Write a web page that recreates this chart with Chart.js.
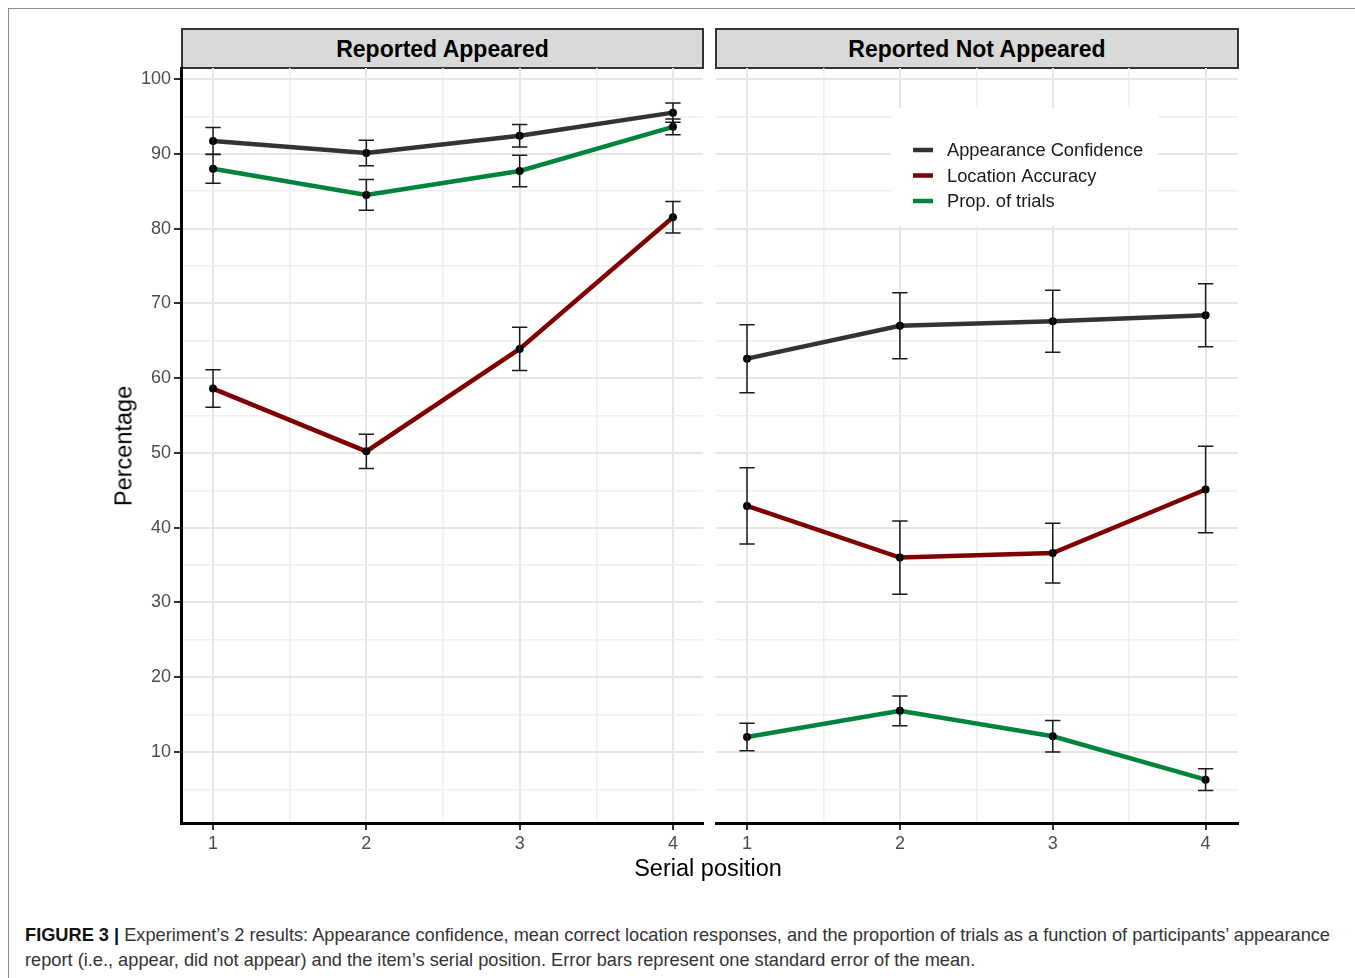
<!DOCTYPE html>
<html>
<head>
<meta charset="utf-8">
<script src="https://cdn.jsdelivr.net/npm/chart.js@4.4.0/dist/chart.umd.min.js"></script>
<style>
  body { margin: 0; width: 1355px; height: 978px; background: #fff; position: relative; overflow: hidden;
         font-family: "Liberation Sans", Arial, sans-serif; }
  .frame { position: absolute; left: 8px; top: 8px; width: 1400px; height: 1000px;
           border-top: 1px solid #8c8c8c; border-left: 1px solid #8c8c8c; }
  .strip { position: absolute; top: 28px; height: 41px; box-sizing: border-box; background: #d9d9d9;
           border: 2px solid #333; font-weight: bold; font-size: 23px; color: #000; text-align: center; line-height: 39px; }
  .panel { position: absolute; top: 60px; }
  .ytitle { position: absolute; left: 124px; top: 446px; transform: translate(-50%, -50%) rotate(-90deg);
            font-size: 23.5px; color: #000; white-space: nowrap; }
  .xtitle { position: absolute; left: 708px; top: 868px; transform: translate(-50%, -50%);
            font-size: 23.5px; color: #000; white-space: nowrap; }
  .caption { position: absolute; left: 25px; font-size: 18.5px; color: #333; white-space: nowrap;
             transform-origin: 0 50%; }
  .caption b { color: #111; }
</style>
</head>
<body>
<div class="frame"></div>
<div class="strip" style="left:181px; width:523px;">Reported Appeared</div>
<div class="strip" style="left:715px; width:524px;">Reported Not Appeared</div>
<div class="panel" style="left:120px;"><canvas id="left" width="590" height="800"></canvas></div>
<div class="panel" style="left:700px;"><canvas id="right" width="550" height="800"></canvas></div>
<div class="ytitle">Percentage</div>
<div class="xtitle">Serial position</div>
<div class="caption" id="cap1" style="top:924px;"><b>FIGURE 3 |</b> Experiment’s 2 results: Appearance confidence, mean correct location responses, and the proportion of trials as a function of participants’ appearance</div>
<div class="caption" id="cap2" style="top:949px;">report (i.e., appear, did not appear) and the item’s serial position. Error bars represent one standard error of the mean.</div>

<script>
const positions = [1, 2, 3, 4];
const seriesNames = ['Appearance Confidence', 'Location Accuracy', 'Prop. of trials'];

// Reported Appeared
const confAppeared = [91.7, 90.1, 92.4, 95.5];
const confAppearedSe = [1.8, 1.7, 1.5, 1.3];
const locAppeared = [58.6, 50.2, 63.9, 81.5];
const locAppearedSe = [2.5, 2.3, 2.9, 2.1];
const propAppeared = [88.0, 84.5, 87.7, 93.6];
const propAppearedSe = [1.95, 2.05, 2.1, 1.05];

// Reported Not Appeared
const confNot = [62.6, 67.0, 67.6, 68.4];
const confNotSe = [4.55, 4.4, 4.15, 4.2];
const locNot = [42.9, 36.0, 36.6, 45.1];
const locNotSe = [5.1, 4.9, 4.0, 5.8];
const propNot = [12.0, 15.5, 12.1, 6.3];
const propNotSe = [1.85, 2.0, 2.1, 1.45];

const xTicks = [1, 2, 3, 4];
const yTicks = [10, 20, 30, 40, 50, 60, 70, 80, 90, 100];

const colors = ['#333333', '#7f0000', '#00843d'];

// squeeze caption lines to the narrow width of the original
const cap1 = document.getElementById('cap1');
const sx = 1305 / cap1.getBoundingClientRect().width;
cap1.style.transform = 'scaleX(' + sx + ')';
document.getElementById('cap2').style.transform = 'scaleX(' + sx + ')';

function makeDatasets(means, ses) {
  return means.map((m, k) => ({
    label: seriesNames[k],
    data: positions.map((x, i) => ({ x: x, y: m[i] })),
    se: ses[k],
    borderColor: colors[k],
    borderWidth: 4.5,
    pointRadius: 4,
    pointBackgroundColor: '#000',
    pointBorderWidth: 0,
    pointHoverRadius: 4,
    tension: 0
  }));
}

const errorBars = {
  id: 'errorBars',
  afterDatasetsDraw(chart) {
    const ctx = chart.ctx;
    const xs = chart.scales.x, ys = chart.scales.y;
    ctx.save();
    ctx.strokeStyle = '#1a1a1a';
    ctx.lineWidth = 1.5;
    chart.data.datasets.forEach((ds) => {
      ds.data.forEach((p, i) => {
        const x = xs.getPixelForValue(p.x);
        const xl = xs.getPixelForValue(p.x - 0.05);
        const xr = xs.getPixelForValue(p.x + 0.05);
        const yt = ys.getPixelForValue(p.y + ds.se[i]);
        const yb = ys.getPixelForValue(p.y - ds.se[i]);
        ctx.beginPath();
        ctx.moveTo(x, yt); ctx.lineTo(x, yb);
        ctx.moveTo(xl, yt); ctx.lineTo(xr, yt);
        ctx.moveTo(xl, yb); ctx.lineTo(xr, yb);
        ctx.stroke();
      });
    });
    ctx.restore();
  }
};

const insideLegend = {
  id: 'insideLegend',
  beforeDatasetsDraw(chart, args, opts) {
    if (!opts.show) return;
    const ctx = chart.ctx;
    const a = chart.chartArea;
    ctx.save();
    ctx.fillStyle = '#fff';
    ctx.fillRect(a.left + 175, a.top + 40, 267, 118);
    ctx.font = '18.3px "Liberation Sans", Arial, sans-serif';
    ctx.textBaseline = 'middle';
    seriesNames.forEach((name, k) => {
      const y = a.top + 82 + k * 25.5;
      ctx.strokeStyle = colors[k];
      ctx.lineWidth = 4.5;
      ctx.beginPath();
      ctx.moveTo(a.left + 197, y); ctx.lineTo(a.left + 217, y);
      ctx.stroke();
      ctx.fillStyle = '#1a1a1a';
      ctx.fillText(name, a.left + 231, y + 1);
    });
    ctx.restore();
  }
};

function makeOptions(showY, showLegend, padLeft, padRight, xMin, xMax) {
  return {
    responsive: false,
    animation: false,
    devicePixelRatio: 1,
    layout: { padding: { top: 8, right: padRight, left: padLeft, bottom: 0 } },
    plugins: { legend: { display: false }, tooltip: { enabled: false }, insideLegend: { show: showLegend } },
    scales: {
      x: {
        type: 'linear',
        min: xMin, max: xMax,
        afterBuildTicks: (s) => { s.ticks = xTicks.flatMap((v) => v < 4 ? [v, v + 0.5] : [v]).map((v) => ({ value: v })); },
        afterFit: (s) => { s.height = 37; s.paddingLeft = 0; s.paddingRight = 0; },
        border: { display: true, color: '#000', width: 3 },
        grid: {
          color: (c) => Number.isInteger(c.tick.value) ? '#e6e6e6' : '#efefef',
          lineWidth: (c) => Number.isInteger(c.tick.value) ? 2 : 1.5,
          tickColor: (c) => Number.isInteger(c.tick.value) ? '#333' : 'rgba(0,0,0,0)',
          tickLength: 7
        },
        ticks: {
          padding: 3,
          color: '#4d4d4d',
          font: { size: 18, family: '"Liberation Sans", Arial, sans-serif' },
          maxRotation: 0,
          autoSkip: false,
          callback: (v) => Number.isInteger(v) ? String(v) : ''
        }
      },
      y: {
        type: 'linear',
        min: 0.5, max: 101.47,
        afterBuildTicks: (s) => { s.ticks = yTicks.flatMap((v) => [v - 5, v]).map((v) => ({ value: v })); },
        afterFit: (s) => { s.width = showY ? 61 : 0; s.paddingTop = 0; s.paddingBottom = 0; },
        border: { display: showY, color: '#000', width: 3 },
        grid: {
          color: (c) => c.tick.value % 10 === 0 ? '#e6e6e6' : '#efefef',
          lineWidth: (c) => c.tick.value % 10 === 0 ? 2 : 1.5,
          tickColor: (c) => c.tick.value % 10 === 0 ? '#333' : 'rgba(0,0,0,0)',
          tickLength: 7,
          drawTicks: showY
        },
        ticks: {
          display: showY,
          padding: 3,
          color: '#4d4d4d',
          font: { size: 18, family: '"Liberation Sans", Arial, sans-serif' },
          autoSkip: false,
          callback: (v) => v % 10 === 0 ? String(v) : ''
        }
      }
    }
  };
}

new Chart(document.getElementById('left'), {
  type: 'line',
  data: { datasets: makeDatasets([confAppeared, locAppeared, propAppeared], [confAppearedSe, locAppearedSe, propAppearedSe]) },
  options: makeOptions(true, false, 0, 7, 0.791, 4.196),
  plugins: [errorBars, insideLegend]
});

new Chart(document.getElementById('right'), {
  type: 'line',
  data: { datasets: makeDatasets([confNot, locNot, propNot], [confNotSe, locNotSe, propNotSe]) },
  options: makeOptions(false, true, 16, 12, 0.797, 4.212),
  plugins: [errorBars, insideLegend]
});
</script>
</body>
</html>
